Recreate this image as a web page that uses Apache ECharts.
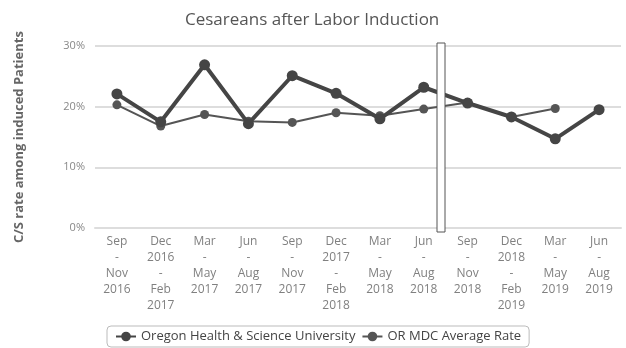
<!DOCTYPE html>
<html>
<head>
<meta charset="utf-8">
<script src="https://cdn.jsdelivr.net/npm/echarts@6/dist/echarts.min.js"></script>
<style>
  html, body { margin: 0; padding: 0; background: #fff; }
  #chart { width: 626px; height: 348px; }
</style>
</head>
<body>
<div id="chart"></div>
<script>
// Quarterly reporting periods
var periods = [
  'Sep\n-\nNov\n2016', 'Dec\n2016\n-\nFeb\n2017', 'Mar\n-\nMay\n2017', 'Jun\n-\nAug\n2017',
  'Sep\n-\nNov\n2017', 'Dec\n2017\n-\nFeb\n2018', 'Mar\n-\nMay\n2018', 'Jun\n-\nAug\n2018',
  'Sep\n-\nNov\n2018', 'Dec\n2018\n-\nFeb\n2019', 'Mar\n-\nMay\n2019', 'Jun\n-\nAug\n2019'
];

// Cesarean rate among induced patients (%)
var ohsuRate = [22.1, 17.5, 26.9, 17.2, 25.1, 22.2, 18.0, 23.2, 20.6, 18.3, 14.7, 19.5];
var mdcRate  = [20.3, 16.8, 18.7, 17.6, 17.4, 19.0, 18.5, 19.6, 20.7, 18.3, 19.7, null];

var yTicks = [0, 10, 20, 30];

var chart = echarts.init(document.getElementById('chart'), null, { renderer: 'canvas' });

var font = '"Open Sans", "DejaVu Sans", sans-serif';

chart.setOption({
  animation: false,
  textStyle: { fontFamily: font },
  title: {
    text: 'Cesareans after Labor Induction',
    left: 180,
    top: 7,
    textStyle: { fontFamily: font, fontSize: 17, fontWeight: 'normal', color: '#555' }
  },
  grid: { left: 95, right: 5, top: 46, bottom: 120 },
  legend: {
    bottom: 1,
    left: 107,
    borderColor: '#bbb',
    borderWidth: 1,
    borderRadius: 4,
    padding: [4, 8],
    itemGap: 6,
    itemWidth: 20,
    itemHeight: 12,
    textStyle: { fontFamily: font, fontSize: 13, color: '#444' },
    data: ['Oregon Health & Science University', 'OR MDC Average Rate']
  },
  xAxis: {
    type: 'category',
    data: periods,
    boundaryGap: true,
    axisLine: { lineStyle: { color: '#ddd', width: 2 } },
    axisTick: { show: false },
    axisLabel: {
      interval: 0,
      margin: 6,
      lineHeight: 16,
      fontSize: 12,
      color: '#808080',
      fontFamily: font
    }
  },
  yAxis: {
    type: 'value',
    min: yTicks[0],
    max: yTicks[yTicks.length - 1],
    interval: 10,
    name: 'C/S rate among induced Patients',
    nameLocation: 'middle',
    nameGap: 69,
    nameRotate: 90,
    nameTextStyle: { fontFamily: font, fontSize: 13, fontWeight: 'bold', color: '#666' },
    axisLine: { show: false },
    axisTick: { show: false },
    axisLabel: { formatter: '{value}%', fontSize: 11, color: '#888', margin: 10, fontFamily: font },
    splitLine: { lineStyle: { color: '#ddd', width: 2 } }
  },
  series: [
    {
      name: 'Oregon Health & Science University',
      type: 'line',
      data: ohsuRate,
      symbol: 'circle',
      symbolSize: 11,
      lineStyle: { color: '#454545', width: 4 },
      itemStyle: { color: '#454545' },
      z: 3
    },
    {
      name: 'OR MDC Average Rate',
      type: 'line',
      data: mdcRate,
      symbol: 'circle',
      symbolSize: 9,
      lineStyle: { color: '#555', width: 2 },
      itemStyle: { color: '#555' },
      z: 2
    }
  ],
  graphic: [
    {
      type: 'rect',
      shape: { x: 437, y: 43, width: 8, height: 189 },
      style: { fill: '#fff', stroke: '#555', lineWidth: 1 },
      z: 100
    }
  ]
});
</script>
</body>
</html>
